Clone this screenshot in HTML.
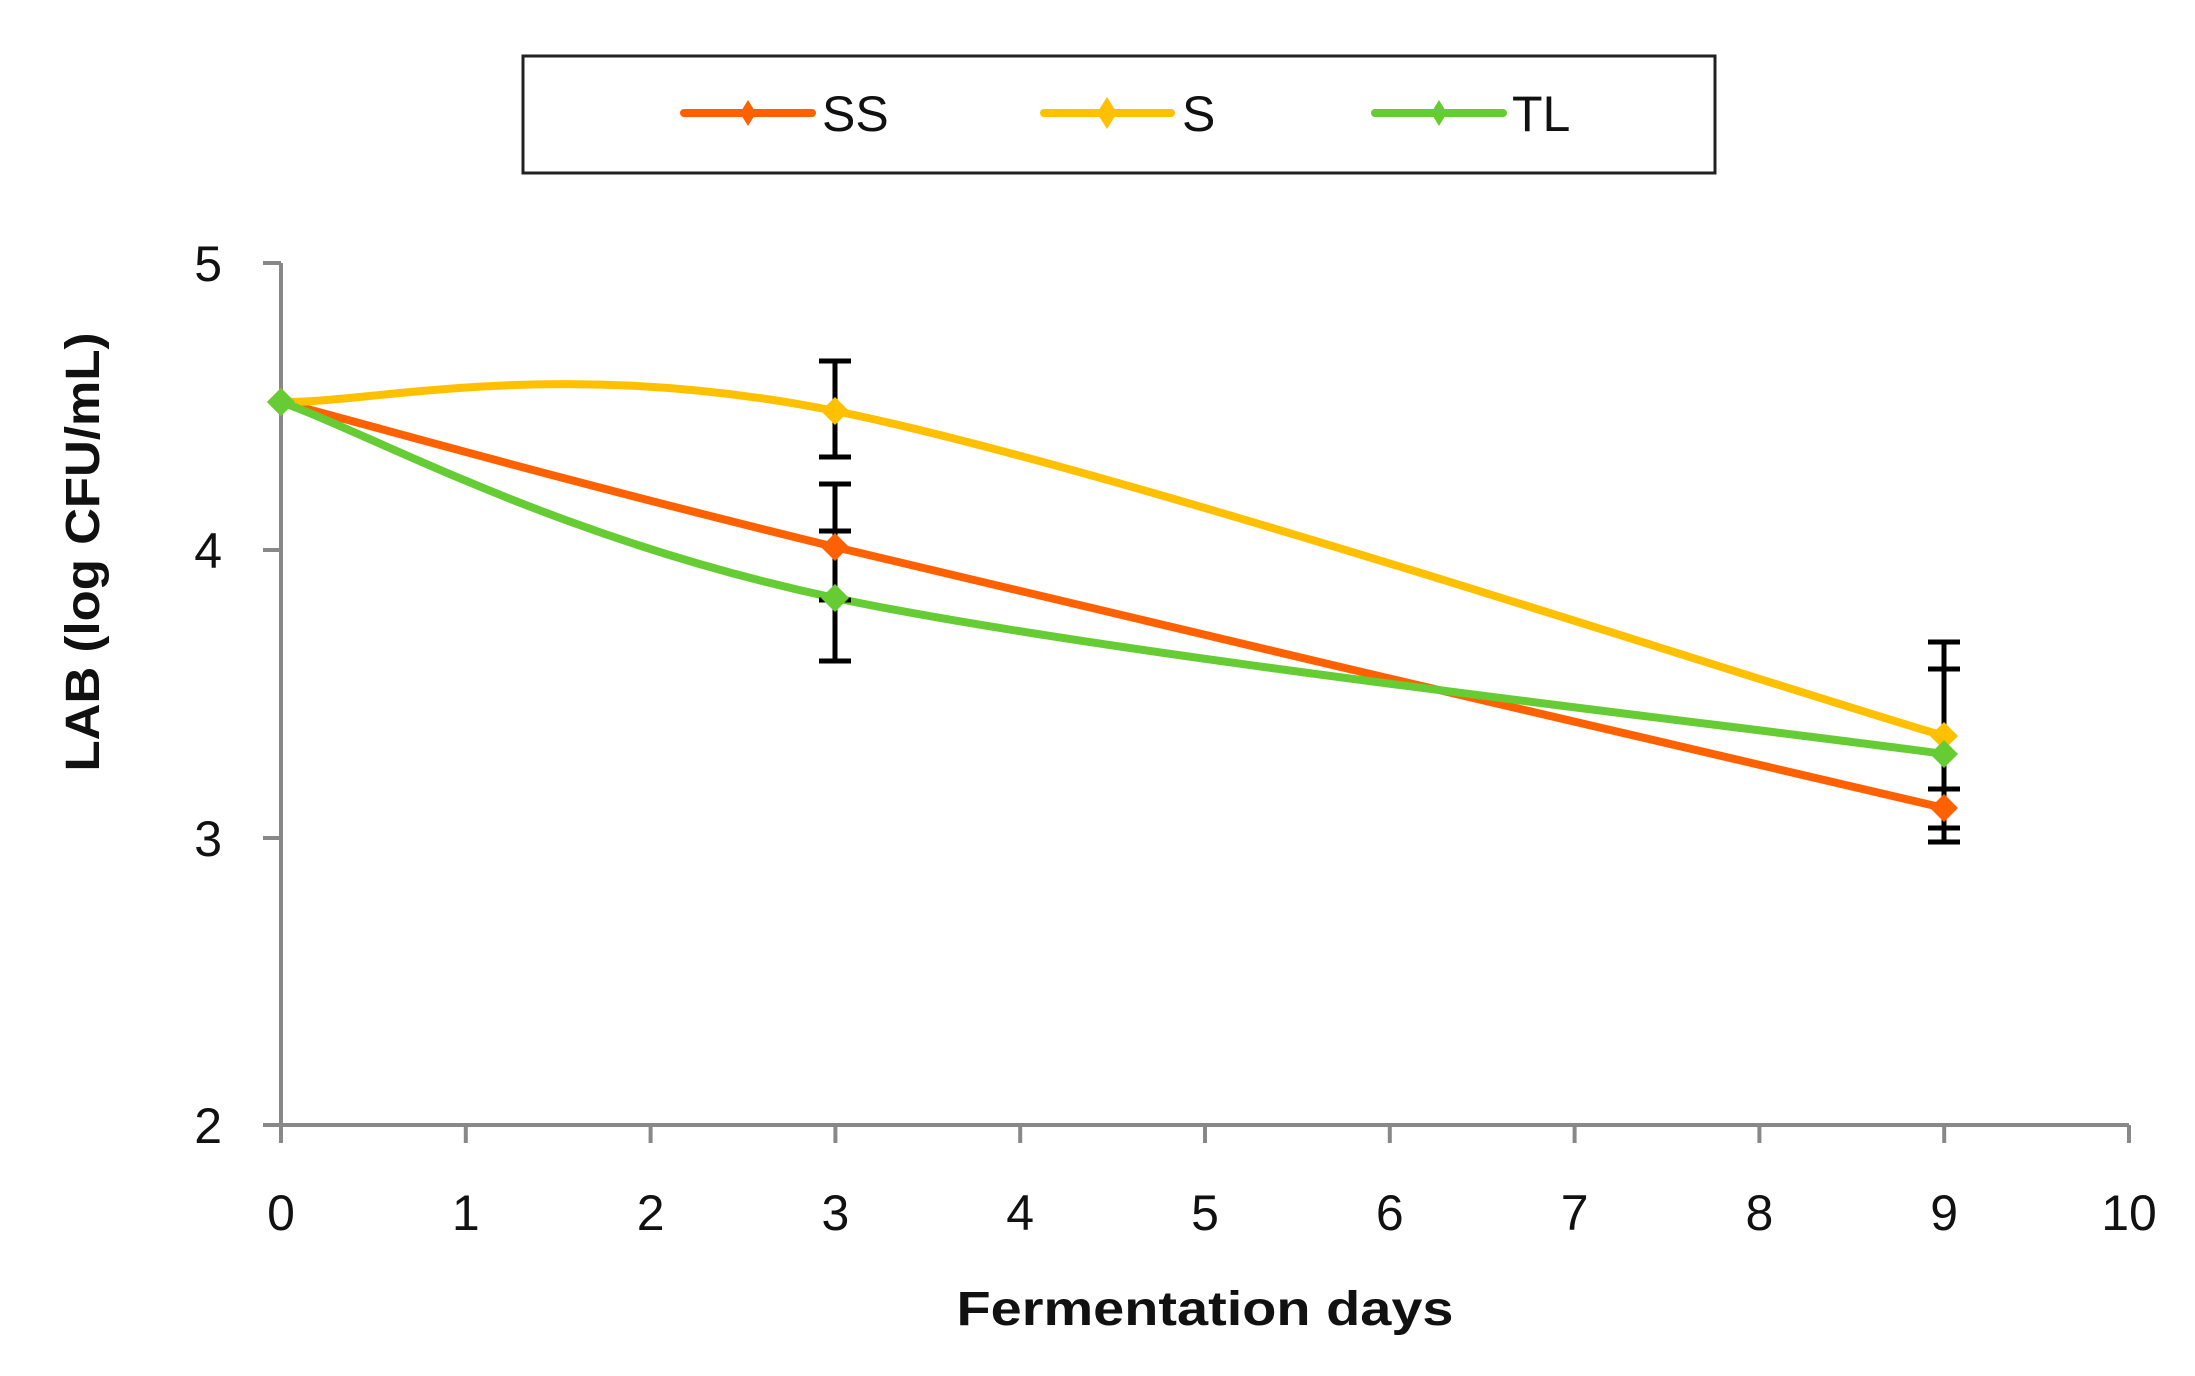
<!DOCTYPE html>
<html><head><meta charset="utf-8"><style>html,body{margin:0;padding:0;background:#fff}svg{display:block}</style></head>
<body>
<svg width="2195" height="1376" viewBox="0 0 2195 1376" xmlns="http://www.w3.org/2000/svg" font-family="Liberation Sans, sans-serif">
<rect width="2195" height="1376" fill="#fff"/>
<rect x="523" y="56" width="1192" height="117" fill="#fff" stroke="#222" stroke-width="3"/>
<g stroke-width="8" stroke-linecap="round">
<line x1="684" y1="113" x2="812" y2="113" stroke="#FF6000"/>
<line x1="1044" y1="113" x2="1171" y2="113" stroke="#FFC000"/>
<line x1="1375" y1="113" x2="1503" y2="113" stroke="#66CC33"/>
</g>
<path d="M748 100 L756 113 L748 126 L740 113Z" fill="#FF6000"/>
<path d="M1107 97 L1117 113 L1107 129 L1097 113Z" fill="#FFC000"/>
<path d="M1439 100 L1447 113 L1439 126 L1431 113Z" fill="#66CC33"/>
<g font-size="50" fill="#111">
<text x="822" y="131">SS</text>
<text x="1182" y="131">S</text>
<text x="1512" y="131">TL</text>
</g>
<g stroke="#888" stroke-width="4" fill="none">
<line x1="281" y1="263" x2="281" y2="1125"/>
<line x1="263" y1="1125" x2="2129" y2="1125"/>
<line x1="263" y1="263" x2="281" y2="263"/>
<line x1="263" y1="550" x2="281" y2="550"/>
<line x1="263" y1="838" x2="281" y2="838"/>
</g>
<g stroke="#888" stroke-width="4" id="xt"></g>
<g font-size="50" fill="#111" text-anchor="end">
<text x="222" y="281">5</text>
<text x="222" y="568">4</text>
<text x="222" y="856">3</text>
<text x="222" y="1143">2</text>
</g>
<g font-size="50" fill="#111" text-anchor="middle" id="xl"></g>
<text x="1205" y="1325" font-size="48" font-weight="bold" text-anchor="middle" textLength="497" lengthAdjust="spacingAndGlyphs" fill="#111">Fermentation days</text>
<text transform="translate(99,552) rotate(-90)" font-size="48" font-weight="bold" text-anchor="middle" textLength="439" lengthAdjust="spacingAndGlyphs" fill="#111">LAB (log CFU/mL)</text>
<g id="series" fill="none" stroke-width="8" stroke-linecap="round"></g>
<g stroke="#000" stroke-width="5">
<line x1="835" y1="361" x2="835" y2="457"/>
<line x1="819" y1="361" x2="851" y2="361"/><line x1="819" y1="457" x2="851" y2="457"/>
<line x1="835" y1="484" x2="835" y2="661"/>
<line x1="819" y1="484" x2="851" y2="484"/><line x1="819" y1="531" x2="851" y2="531"/>
<line x1="819" y1="600" x2="851" y2="600"/><line x1="819" y1="661" x2="851" y2="661"/>
<line x1="1944" y1="642" x2="1944" y2="842"/>
<line x1="1928" y1="642" x2="1960" y2="642"/><line x1="1928" y1="669" x2="1960" y2="669"/>
<line x1="1928" y1="789" x2="1960" y2="789"/><line x1="1928" y1="828" x2="1960" y2="828"/>
<line x1="1928" y1="842" x2="1960" y2="842"/>
</g>
<g id="markers"></g>
</svg>
<script>
var NS="http://www.w3.org/2000/svg";
function el(p,t,a){var e=document.createElementNS(NS,t);for(var k in a)e.setAttribute(k,a[k]);document.getElementById(p).appendChild(e);return e;}
for(var i=0;i<=10;i++){var x=281+184.8*i;el("xt","line",{x1:x,y1:1125,x2:x,y2:1143});var t=el("xl","text",{x:x,y:1230});t.textContent=i;}
function path(P){var d="M"+P[0][0]+" "+P[0][1];for(var i=0;i<P.length-1;i++){var p0=P[Math.max(i-1,0)],p1=P[i],p2=P[i+1],p3=P[Math.min(i+2,P.length-1)];
var c1=[p1[0]+(p2[0]-p0[0])/6,p1[1]+(p2[1]-p0[1])/6],c2=[p2[0]-(p3[0]-p1[0])/6,p2[1]-(p3[1]-p1[1])/6];
d+=" C"+c1+" "+c2+" "+p2;}return d;}
var S=[
{c:"#FF6000",p:[[281,402],[835,547],[1944,808]]},
{c:"#FFC000",p:[[281,402],[835,411],[1944,736]]},
{c:"#66CC33",p:[[281,402],[835,598],[1944,754]]}];
S.forEach(function(s){el("series","path",{d:path(s.p),stroke:s.c});});
S.forEach(function(s){s.p.forEach(function(q){var x=q[0],y=q[1];el("markers","path",{d:"M"+x+" "+(y-14)+" L"+(x+14)+" "+y+" L"+x+" "+(y+14)+" L"+(x-14)+" "+y+"Z",fill:s.c});});});
</script>
</body></html>
